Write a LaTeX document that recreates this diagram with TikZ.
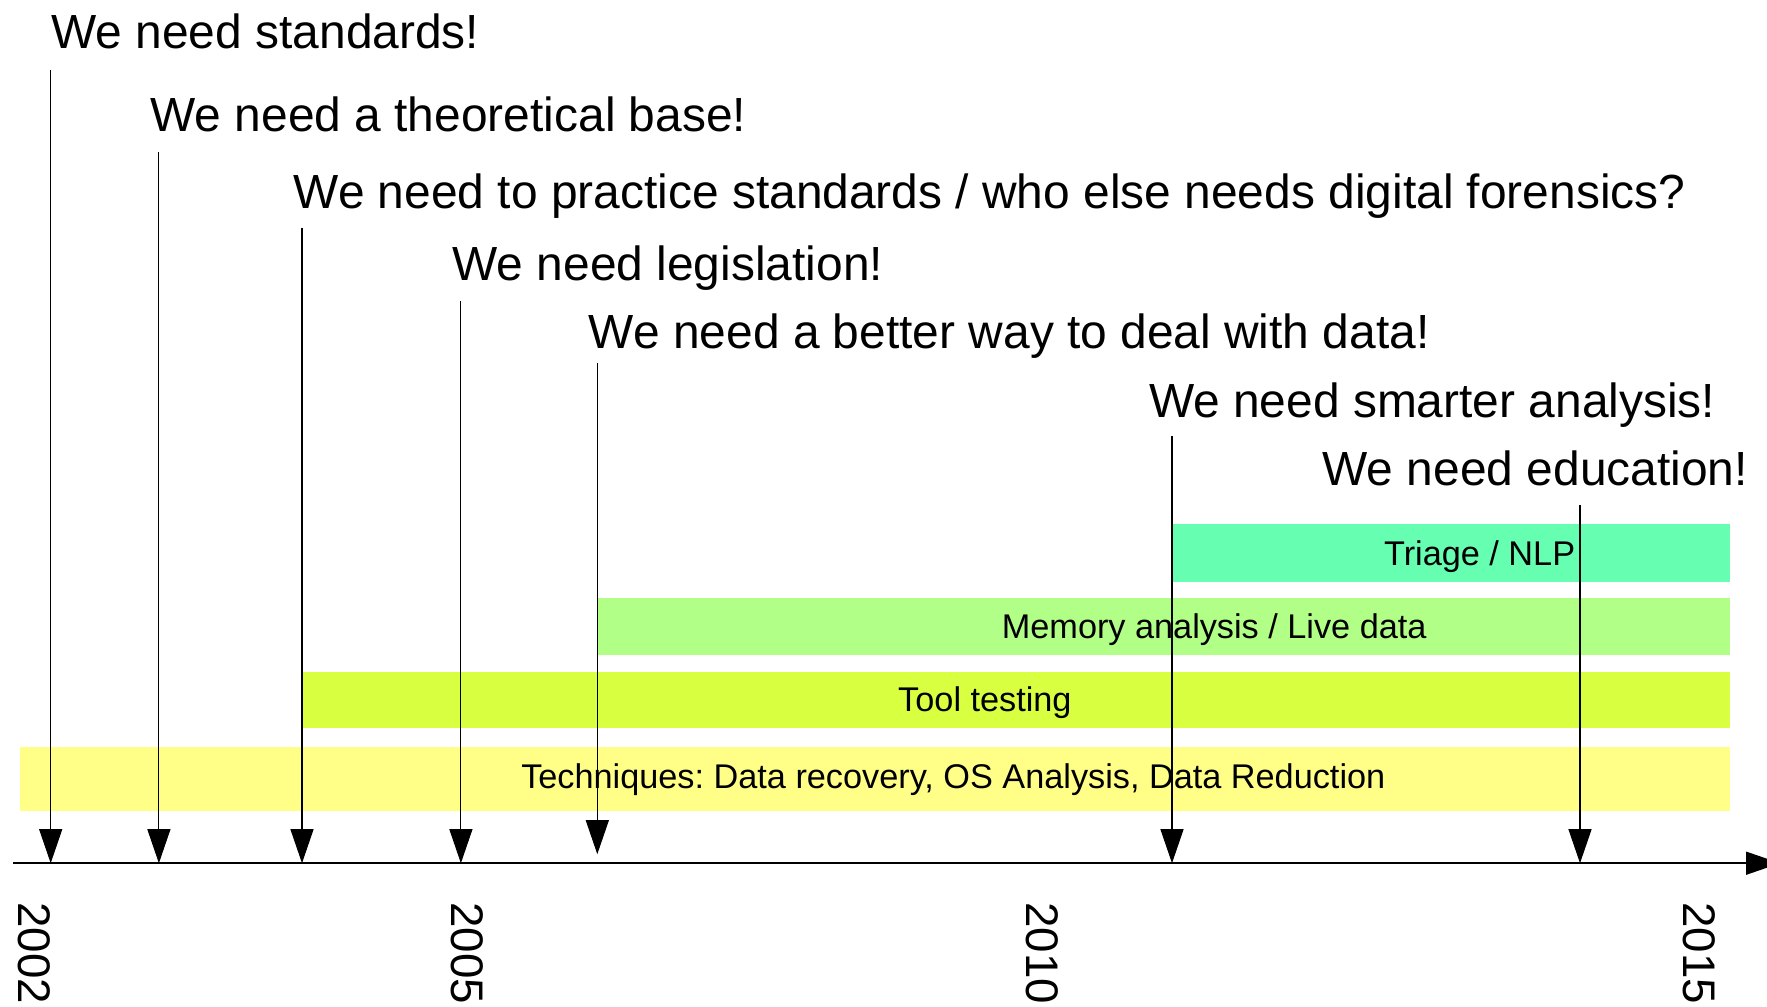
\documentclass[tikz,border=0pt]{standalone}
\usepackage{fontspec}
\setmainfont{Liberation Sans}
\usetikzlibrary{arrows.meta}
\frenchspacing

\definecolor{triagegreen}{HTML}{66FFB2}
\definecolor{memorygreen}{HTML}{B2FF88}
\definecolor{toolyellow}{HTML}{D8FF40}
\definecolor{techyellow}{HTML}{FFFF88}

\begin{document}
\begin{tikzpicture}[
        need/.style={anchor=base west, inner sep=0pt, font=\fontsize{13.63}{16}\selectfont},
        phase/.style={anchor=base, inner sep=0pt, font=\fontsize{9.75}{11}\selectfont},
        year/.style={anchor=west, rotate=-90, inner sep=0pt, font=\fontsize{13}{15}\selectfont},
        pointer/.style={line width=0.3pt, -{Triangle[length=3.4mm, width=2.3mm]}}
    ]
        \useasboundingbox (0,0) rectangle (17.67,10.06);

        % research phases
        \fill[techyellow]  (0.203,1.946) rectangle (17.298,2.589);
        \fill[toolyellow]  (3.02,2.78)   rectangle (17.298,3.344);
        \fill[memorygreen] (5.973,3.513) rectangle (17.298,4.076);
        \fill[triagegreen] (11.72,4.245) rectangle (17.298,4.82);

        \node[phase] (techniques) at (9.533,2.176)
        {Techniques: Data recovery, OS Analysis, Data Reduction};
        \node[phase] (tooltesting) at (9.849,2.942) {Tool testing};
        \node[phase] (memory) at (12.142,3.674) {Memory analysis / Live data};
        \node[phase] (triage) at (14.796,4.407) {Triage / NLP};

        % what we need
        \node[need] (standards) at (0.507,9.575) {We need standards!};
        \node[need] (theory) at (1.499,8.742) {We need a theoretical base!};
        \node[need] (practice) at (2.93,7.975)
        {We need to practice standards / who else needs digital forensics?};
        \node[need] (legislation) at (4.519,7.254) {We need legislation!};
        \node[need] (data) at (5.882,6.578) {We need a better way to deal with data!};
        \node[need] (analysis) at (11.483,5.89) {We need smarter analysis!};
        \node[need] (education) at (13.219,5.203) {We need education!};

        % time axis
        \coordinate (axisstart) at (0.135,1.428);
        \coordinate (axisend) at (17.8,1.428);
        \draw[line width=0.45pt, -{Triangle[length=3.4mm, width=2.3mm]}]
        (axisstart) -- (axisend);

        \foreach \name/\x/\top/\tip in {standards/0.507/9.361/1.428,
                theory/1.589/8.539/1.428, practice/3.02/7.784/1.428,
                legislation/4.609/7.051/1.428, data/5.973/6.431/1.518,
                analysis/11.72/5.699/1.428, education/15.8/5.011/1.428}
        {
            \coordinate (\name-top) at (\x,\top);
            \coordinate (\name-tip) at (\x,\tip);
            \draw[pointer] (\name-top) -- (\name-tip);
        }

        \node[year] (y2002) at (0.338,1.045) {2002};
        \node[year] (y2005) at (4.677,1.045) {2005};
        \node[year] (y2010) at (10.424,1.045) {2010};
        \node[year] (y2015) at (16.994,1.045) {2015};
    \end{tikzpicture}
\end{document}
